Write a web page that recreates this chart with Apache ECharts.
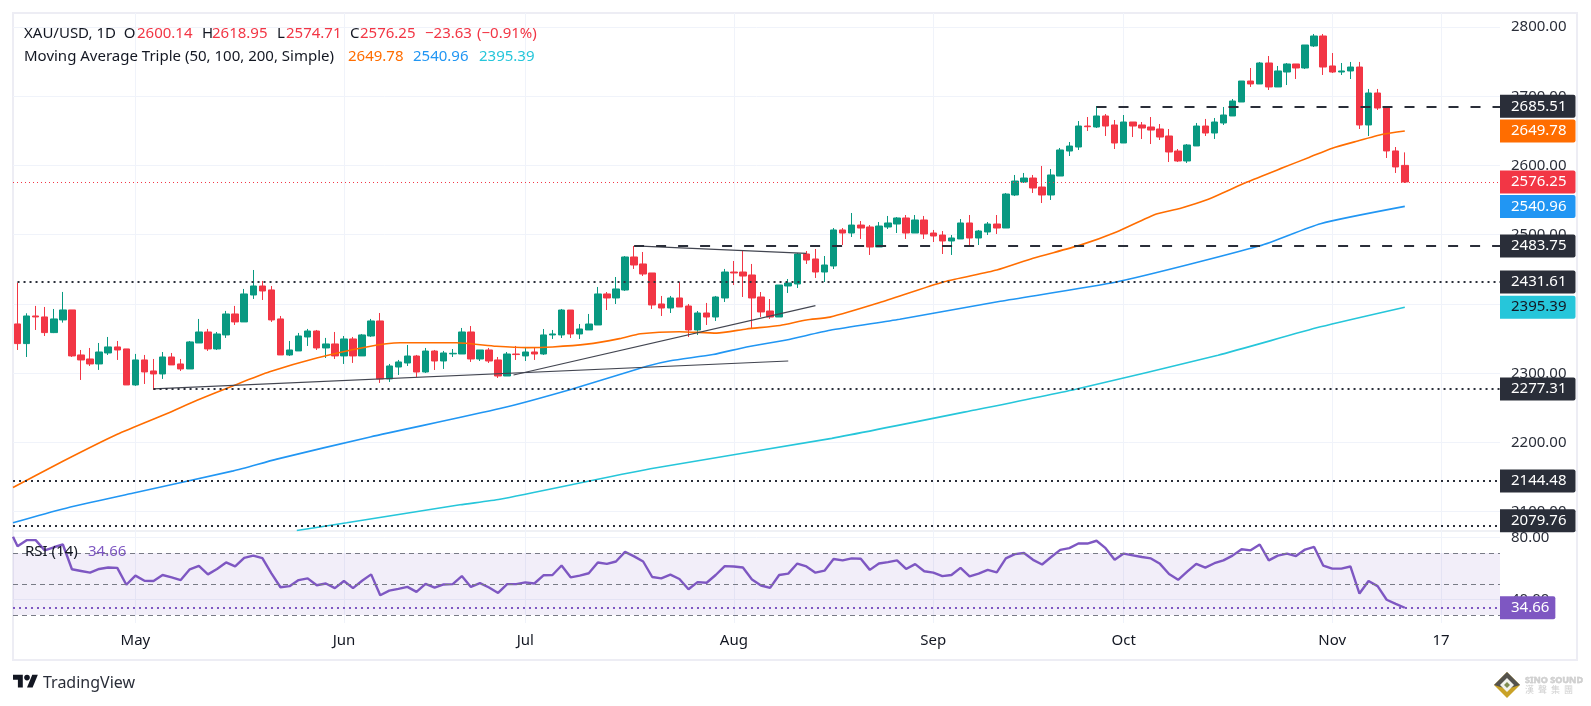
<!DOCTYPE html>
<html>
<head>
<meta charset="utf-8">
<title>XAU/USD</title>
<style>
  html, body { margin: 0; padding: 0; background: #fff; }
  #chart { width: 1591px; height: 706px; }
</style>
<script src="https://cdn.jsdelivr.net/npm/echarts@6/dist/echarts.min.js"></script>
</head>
<body>
<div id="chart"></div>
<script>
// daily candles, index 0 = 12 Apr 2024, last = 13 Nov 2024
var opens = [2371.2,2342.8,2382.7,2381.3,2358.7,2377,2391.4,2326.4,2320.6,2313.4,2329.3,2338,2335.1,2283.1,2319.2,2303.3,2299,2323.5,2313.4,2306.2,2343.7,2359.6,2335.1,2355.3,2385.6,2374.1,2413,2426,2420.3,2378.4,
  2326.4,2332.2,2352.4,2361,2336.5,2342.3,2325,2349.5,2325,2353.8,2375.5,2291.8,2309,2314.8,2324.9,2301.8,2332.1,2317.7,2328,2327.8,2359.6,2320.6,2333.6,2319.2,2296,2327.8,2325,2330.7,2327.8,2355.3,
  2355.3,2391.3,2356.7,2362.5,2369.7,2414.5,2408.7,2420.2,2467.9,2457.8,2444.8,2400,2394.2,2408.7,2397.1,2362.5,2387,2381.2,2408.7,2446.2,2446.2,2441.9,2410.1,2389.9,2381.2,2426,2428.9,2472.2,2465,2446.2,
  2454.9,2506.9,2502.5,2514,2511.2,2482.3,2511.2,2515.5,2524.2,2502.5,2521.3,2502.5,2499.6,2491,2493.9,2517,2495.3,2504,2515.5,2509.7,2557.4,2576.2,2581.9,2568.9,2557.4,2584.8,2620.9,2626.7,2657,2655.6,
  2671.5,2658.5,2632.5,2662.8,2658.5,2655.6,2652.7,2642.6,2620.9,2606.5,2628.2,2657,2646.9,2661.4,2671.5,2691.7,2722,2717.7,2748,2713.4,2735,2746.6,2740.8,2772.6,2787,2743.7,2735,2736.5,2742.2,2658.5,
  2704.7,2684.5,2621,2600.14];
var highs = [2430.9,2386.6,2397.2,2395.7,2392.8,2417.4,2391.4,2333.6,2336.5,2343.7,2352.4,2346.6,2335.1,2327.9,2326.4,2320.6,2330.7,2329.3,2320.6,2346.6,2378.4,2364,2359.6,2390,2397.2,2421.7,2449.1,2433.3,2426,2382.7,
  2346.6,2358.2,2364,2362.5,2351,2359.6,2353.8,2352.4,2356.7,2378.4,2387,2313.4,2319.2,2340.8,2326.4,2336.5,2333.6,2332.2,2335,2365.4,2368.2,2333.6,2336.5,2323.5,2330.7,2339.4,2337.9,2336.5,2363.9,2362.5,
  2392.8,2391.3,2371.1,2385.6,2424.6,2417.3,2439,2469.3,2483.8,2475.1,2444.8,2411.6,2411.6,2431.8,2400,2389.9,2401.5,2411.6,2450.6,2462.1,2476.5,2457.8,2417.3,2407.2,2427.4,2436.1,2473.7,2476.5,2479.4,2469.3,
  2509.7,2509.7,2531.4,2519.8,2514,2518.4,2527.1,2525.6,2528.5,2528.5,2527.1,2506.9,2505.4,2499.6,2522.7,2528.5,2506.9,2518.4,2528.5,2560.3,2586.3,2589.2,2586.3,2599.3,2594.9,2625.3,2633.9,2664.2,2670,2685.9,
  2674.3,2665.7,2672.9,2662.8,2662.8,2670,2659.9,2652.7,2623.8,2631,2661.4,2667.2,2668.6,2684.5,2696,2722,2740.8,2749.5,2758.1,2743.7,2748,2746.6,2774,2789.9,2789.9,2762.4,2748,2749.5,2749.5,2710.5,
  2710.5,2685.9,2626.7,2618.95];
var lows = [2333.6,2323.5,2362.5,2353.8,2358,2373.1,2323.5,2290.3,2310.5,2304.8,2326.4,2319.2,2283.1,2281.7,2284.5,2275.9,2291.8,2312,2303.3,2306.2,2343.7,2332.2,2333.6,2351,2369.7,2374.1,2407.3,2405.8,2374.1,2326.4,
  2325,2332.2,2339.4,2333.6,2322,2320.6,2313.4,2314.9,2325,2352.4,2286,2287.4,2297.5,2310.5,2294.6,2300.4,2304.7,2306.2,2323.5,2327.8,2316.3,2317.7,2314.8,2293.2,2296,2319.2,2317.7,2319.2,2326.4,2349.5,
  2350.9,2350.9,2349.5,2362.5,2369.7,2391.3,2400,2418.8,2450.6,2440.4,2392.8,2382.7,2387,2395.7,2352.4,2355.3,2369.7,2375.5,2402.9,2427.4,2410.1,2363.9,2381.2,2378.4,2381.2,2415.9,2423.1,2457.8,2437.6,2431.8,
  2450.5,2485.2,2496.7,2493.9,2470.8,2482.3,2508.3,2502.5,2493.9,2502.5,2493.9,2489.5,2472.2,2470.8,2493.9,2483.8,2485.2,2499.6,2501.1,2509.7,2555.9,2574.7,2560.3,2545.8,2550.2,2584.8,2613.7,2622.4,2649.8,2654.1,
  2642.6,2623.8,2632.5,2641.1,2638.2,2631,2636.8,2605,2605,2603.6,2628.2,2642.6,2638.3,2658.5,2671.5,2691.7,2713.4,2717.7,2709,2713.4,2716.2,2724.9,2739.3,2771.1,2730.7,2733.6,2730.7,2724.9,2652.7,2642.6,
  2680.2,2610.8,2589.2,2574.71];
var closes = [2342.8,2382.7,2381.3,2358.7,2378.4,2391.4,2325,2319.2,2313.4,2330.7,2338,2333.6,2283.1,2319.2,2301.9,2299,2323.5,2312,2306.2,2345.2,2359.6,2335.1,2356.7,2385.6,2374.1,2414.5,2426,2418.8,2377,2326.4,
  2333.6,2353.8,2361,2336.5,2342.3,2325,2349.5,2325,2355.3,2375.5,2291.8,2310.5,2316.3,2324.9,2301.8,2332.1,2317.7,2329.3,2328.8,2359.6,2320.6,2333.6,2317.7,2296,2327.8,2327,2330.7,2327.8,2355.3,2356.7,
  2391.3,2356.7,2363.9,2371.1,2414.5,2408.7,2421.7,2467.9,2456.3,2443.3,2398.6,2394.2,2408.7,2395.7,2362.5,2387,2381.2,2410.1,2446.2,2444.8,2440.4,2408.7,2388.5,2381.2,2427.4,2430.3,2472.2,2463.5,2446.2,2456.3,
  2506.9,2502.5,2514,2509.7,2482.3,2512.6,2517,2524.2,2502.5,2521.3,2501.1,2498.2,2491,2495.3,2517,2495.3,2505.4,2515.5,2509.7,2558.8,2577.6,2581.9,2567.5,2557.4,2586.3,2622.4,2628.1,2657,2656,2671.5,
  2657,2632.5,2662.8,2657,2654.1,2651.2,2641.1,2619.5,2606.5,2629.6,2657,2646.9,2662.8,2672.9,2693.1,2722,2717.7,2748,2713.4,2736.5,2746.6,2740.8,2774,2787,2742.2,2735,2736.5,2742.2,2658.5,2704.7,
  2683,2621,2597.9,2576.25];
// moving averages, pairs of candle index and value
var sma50 = [[-0.5,2135],[5,2173],[11,2212],[16.5,2242],[19.8,2261],[23.8,2282],[27.8,2302],[33,2322],[38.5,2338],[42.2,2344],[43.6,2344],[48.4,2344],[52.8,2339],[56.2,2337],[59,2338],[62.8,2342],[66.4,2350],[68.7,2357],[73,2360],[77.1,2358],[80.4,2364],[84.1,2369],[87,2377],[89.6,2381],[95.1,2402],[102.2,2432],[108,2449],[112,2466],[117.2,2485],[121.2,2504],[125.6,2530],[128.2,2538],[131.1,2550],[135.6,2576],[139.6,2597],[142.5,2612],[145,2625],[147.7,2635],[150.6,2645],[153,2649.78]];
var sma100 = [[-0.5,2084],[5,2104],[12.8,2127],[23.8,2159],[28.6,2176],[38.9,2208],[53.2,2249],[61.1,2277],[69.4,2310],[72,2318],[76.7,2327],[80.4,2338],[84.8,2348],[89.6,2362],[97.3,2378],[108.4,2404],[121.3,2432],[137,2484],[143.7,2516],[153,2540.96]];
var sma200 = [[30.8,2073],[36.3,2084],[48.8,2110],[53.2,2118],[69.8,2162],[89.8,2206],[105.6,2247],[116.7,2277],[132.4,2326],[143.7,2367],[153,2395.39]];
var rsi = [74.4,78.3,78.3,71.7,73.7,75.5,59.5,58.4,57.3,59.7,60.6,60.4,49.5,55.4,52.1,51.9,55.8,54.3,52.5,59.5,61.7,56.2,59.7,63.9,61.3,66.9,68.3,66.7,56.9,47.9,
  48.6,52.5,53.6,49.2,50.3,47.3,51.9,47.3,52.1,56.2,42.7,45.7,46.8,48.1,44.9,50.1,47.7,49.7,49.9,55.1,48.1,50.5,47.7,44.2,49.9,49.9,51,50.3,55.6,55.8,
  61.9,54.3,55.4,56.9,63.9,63,64.5,70.7,67.8,64.5,54.5,53.6,56,53.2,46.6,51.2,50.8,55.8,61.5,61.3,60.6,52.9,49,47.5,55.8,56.7,63.2,61.3,57.3,58.6,
  66.1,65.2,66.5,66.3,59.1,63.2,64.1,65.2,59.7,62.8,58.2,57.3,55.1,55.8,60.4,54.9,56.7,59.1,57.5,66.5,69.3,70,65.6,62.6,67.4,72,73.1,76.1,76.1,77.9,
  73.1,65.6,69.6,68.5,67.4,66.5,63,56.4,52.7,58,63,60.6,63.4,65.2,68.3,72.4,71.7,75.5,65.2,68.3,69.6,68,72.2,73.9,61.9,59.9,59.9,61.3,43.8,51.9,
  48.6,39.8,37.2,34.66];
var rsiLeftEdge = 80.5;

var priceTicks = [2100,2200,2300,2400,2500,2600,2700,2800];
var rsiTicks = [40,80];
var rsiLevels = [70,50,30];
var timeTickIdx = [13,36,56,79,101,122,145,157];
var timeTickLabels = ['May','Jun','Jul','Aug','Sep','Oct','Nov','17'];

// drawn levels: [start index, price, kind]
var levels = [
  [119,2685.51,'dash'],
  [68,2483.75,'dash'],
  [0,2431.61,'dot'],
  [15,2277.31,'dot'],
  [-0.5,2144.48,'dot'],
  [-0.5,2079.76,'dot']
];
var trendLines = [
  [[15,2277.3],[85,2317.7]],
  [[54.7,2297.5],[88,2397.6]],
  [[68.1,2483.8],[87,2473.1]]
];

var UP = '#089981', DOWN = '#F23645', DARK = '#2A2E39', GRID = '#F0F3FA';
var ORANGE = '#FF6D00', BLUE = '#2196F3', CYAN = '#26C6DA', PURPLE = '#7E57C2';
var FONT = '"Noto Sans", sans-serif';
var X_MIN = -0.5, X_MAX = 163.5;

var candles = opens.map(function(o, i) {
  return [i, o, closes[i], lows[i], highs[i]];
});
var rsiPoints = [[X_MIN, rsiLeftEdge]].concat(rsi.map(function(v, i) { return [i, v]; }));

// price tag sitting on the right hand axis
function tag(value, bg, fg, right, shiftY) {
  return {
    coord: [X_MAX, value],
    symbol: 'rect',
    symbolSize: 0,
    label: {
      show: true,
      position: 'right',
      distance: 0,
      offset: [0, shiftY || 0],
      formatter: value.toFixed(2),
      color: fg || '#fff',
      backgroundColor: bg,
      fontFamily: FONT,
      fontSize: 15,
      lineHeight: 15,
      padding: [4, right === undefined ? 9 : right, 4, 11],
      borderRadius: [0, 2, 2, 0]
    }
  };
}

function maSeries(name, data, color, tagFg) {
  var last = data[data.length - 1][1];
  return {
    name: name, type: 'line', xAxisIndex: 0, yAxisIndex: 0, z: 3,
    data: data, symbol: 'none', silent: true, smooth: 0.2,
    lineStyle: { color: color, width: 1.6 },
    markPoint: { silent: true, z: 20, data: [tag(last, color, tagFg)] }
  };
}

var levelLines = levels.map(function(l) {
  return [{
    coord: [l[0], l[1]],
    lineStyle: {
      color: DARK,
      width: 2,
      type: l[2] == 'dash' ? [10, 12] : [2, 4]
    }
  }, { coord: [X_MAX, l[1]] }];
});
levelLines.push([{
  coord: [X_MIN, closes[closes.length - 1]],
  lineStyle: { color: DOWN, width: 1, type: [1, 3] }
}, { coord: [X_MAX, closes[closes.length - 1]] }]);

var series = [{
  name: 'levels', type: 'line', xAxisIndex: 0, yAxisIndex: 0, z: 1,
  data: [[153, closes[153]]], symbol: 'none', silent: true,
  lineStyle: { width: 0 },
  markLine: { silent: true, symbol: 'none', animation: false, label: { show: false }, data: levelLines },
  markPoint: {
    silent: true, z: 20,
    data: levels.map(function(l) {
      // the lowest tag is pushed up so it stays inside the price pane
      return tag(l[1], DARK, '#fff', undefined, l[1] < 2100 ? -5 : 0);
    }).concat([tag(closes[153], DOWN)])
  }
}, {
  name: 'XAU/USD', type: 'candlestick', xAxisIndex: 0, yAxisIndex: 0, z: 2,
  data: candles, barWidth: 7, silent: true,
  itemStyle: { color: UP, color0: DOWN, borderColor: UP, borderColor0: DOWN, borderWidth: 1 }
},
maSeries('SMA 50', sma50, ORANGE),
maSeries('SMA 100', sma100, BLUE),
maSeries('SMA 200', sma200, CYAN, '#131722')
];

trendLines.forEach(function(t, i) {
  series.push({
    name: 'trend' + i, type: 'line', xAxisIndex: 0, yAxisIndex: 0, z: 4,
    data: t, symbol: 'none', silent: true,
    lineStyle: { color: '#434651', width: 1.2 }
  });
});

series.push({
  name: 'RSI', type: 'line', xAxisIndex: 1, yAxisIndex: 1, z: 4,
  data: rsiPoints, symbol: 'none', silent: true,
  lineStyle: { color: PURPLE, width: 2.4 },
  markArea: {
    silent: true,
    itemStyle: { color: 'rgba(126,87,194,0.1)' },
    data: [[{ coord: [X_MIN, 70] }, { coord: [X_MAX, 30] }]]
  },
  markLine: {
    silent: true, symbol: 'none', animation: false, label: { show: false },
    data: rsiLevels.map(function(v) {
      return [{
        coord: [X_MIN, v],
        lineStyle: { color: '#787B86', width: 1, type: [5, 4] }
      }, { coord: [X_MAX, v] }];
    }).concat([[{
      coord: [X_MIN, rsi[153]],
      lineStyle: { color: PURPLE, width: 2, type: [2, 4] }
    }, { coord: [X_MAX, rsi[153]] }]])
  },
  markPoint: { silent: true, z: 20, data: [tag(rsi[153], PURPLE, '#fff', 6)] }
});

function timeAxis(gridIndex, withLabels) {
  return {
    type: 'value', gridIndex: gridIndex, min: X_MIN, max: X_MAX,
    axisLine: { show: false },
    axisTick: { show: false, customValues: timeTickIdx },
    splitLine: { show: true, lineStyle: { color: GRID, width: 1 } },
    axisLabel: {
      show: withLabels,
      customValues: timeTickIdx,
      margin: 10,
      color: '#131722',
      fontFamily: FONT,
      fontSize: 15,
      formatter: function(v) { return timeTickLabels[timeTickIdx.indexOf(v)]; }
    }
  };
}

function valueAxis(gridIndex, min, max, ticks) {
  return {
    type: 'value', gridIndex: gridIndex, position: 'right', min: min, max: max,
    axisLine: { show: false },
    axisTick: { show: false, customValues: ticks },
    splitLine: { show: true, lineStyle: { color: GRID, width: 1 } },
    axisLabel: {
      customValues: ticks,
      margin: 11,
      color: DARK,
      fontFamily: FONT,
      fontSize: 15,
      formatter: function(v) { return v.toFixed(2); }
    }
  };
}

// legend strings, placed one by one
function txt(x, y, s, color) {
  return {
    type: 'text', x: x, y: y, z: 30, silent: true,
    style: { text: s, fill: color, font: '15px ' + FONT, textVerticalAlign: 'middle' }
  };
}

var legend = [
  txt(24, 34, 'XAU/USD, 1D  O', '#131722'),
  txt(137, 34, '2600.14', DOWN),
  txt(202, 34, 'H', '#131722'),
  txt(212, 34, '2618.95', DOWN),
  txt(277, 34, 'L', '#131722'),
  txt(286, 34, '2574.71', DOWN),
  txt(350, 34, 'C', '#131722'),
  txt(360, 34, '2576.25', DOWN),
  txt(425, 34, '\u221223.63', DOWN),
  txt(477, 34, '(\u22120.91%)', DOWN),
  txt(24, 57, 'Moving Average Triple (50, 100, 200, Simple)', '#131722'),
  txt(348, 57, '2649.78', ORANGE),
  txt(413, 57, '2540.96', BLUE),
  txt(479, 57, '2395.39', CYAN),
  txt(25, 552, 'RSI (14)', '#131722'),
  txt(88, 552, '34.66', PURPLE)
];

var decorations = [
  { type: 'rect', z: 0, silent: true,
    shape: { x: 13, y: 13, width: 1564, height: 647 },
    style: { fill: 'none', stroke: '#EDEDF4', lineWidth: 2 } },
  { type: 'line', z: 0, silent: true,
    shape: { x1: 13, y1: 531, x2: 1577, y2: 531 },
    style: { stroke: '#E0E3EB', lineWidth: 1 } },
  // TradingView mark
  { type: 'group', x: 13, y: 672, scaleX: 0.7, scaleY: 0.7, silent: true, children: [
    { type: 'polygon', shape: { points: [[0,4],[14,4],[14,22],[7,22],[7,11],[0,11]] }, style: { fill: '#131722' } },
    { type: 'polygon', shape: { points: [[20,22],[27.5,4],[35.5,4],[28,22]] }, style: { fill: '#131722' } },
    { type: 'circle', shape: { cx: 20, cy: 8, r: 4 }, style: { fill: '#131722' } }
  ] },
  { type: 'text', x: 43, y: 683, silent: true,
    style: { text: 'TradingView', fill: '#2A2E39', font: '16px ' + FONT, textVerticalAlign: 'middle' } },
  // Sino Sound mark
  { type: 'polygon', silent: true, shape: { points: [[1507,672],[1520,685],[1507,698],[1494,685]] }, style: { fill: '#C9A227' } },
  { type: 'polygon', silent: true, shape: { points: [[1507,672],[1520,685],[1507,689],[1494,685]] }, style: { fill: '#55534E' } },
  { type: 'polygon', silent: true, shape: { points: [[1507,678],[1514,685],[1507,692],[1500,685]] }, style: { fill: '#F2F2EE' } },
  { type: 'polygon', silent: true, shape: { points: [[1507,682],[1510,685],[1507,688],[1504,685]] }, style: { fill: '#7E8B52' } },
  { type: 'text', x: 1525, y: 680, silent: true,
    style: { text: 'SINO SOUND', fill: '#D0D0D0', stroke: '#B8B8B8', lineWidth: 0.4, font: 'bold 9px ' + FONT, textVerticalAlign: 'middle' } },
  { type: 'text', x: 1525, y: 690, silent: true,
    style: { text: '\u6f22  \u8072  \u96c6  \u5718', fill: '#D0D0D0', font: '9px "Noto Sans CJK TC"', textVerticalAlign: 'middle' } }
];

var chart = echarts.init(document.getElementById('chart'), null, { renderer: 'canvas' });
chart.setOption({
  animation: false,
  backgroundColor: '#fff',
  grid: [
    { left: 13, right: 91, top: 13, height: 518 },
    { left: 13, right: 91, top: 531, height: 92 }
  ],
  xAxis: [timeAxis(0, false), timeAxis(1, true)],
  yAxis: [
    valueAxis(0, 2072.2, 2820.2, priceTicks),
    valueAxis(1, 24.8, 84.2, rsiTicks)
  ],
  series: series,
  graphic: legend.concat(decorations)
});
</script>
</body>
</html>
